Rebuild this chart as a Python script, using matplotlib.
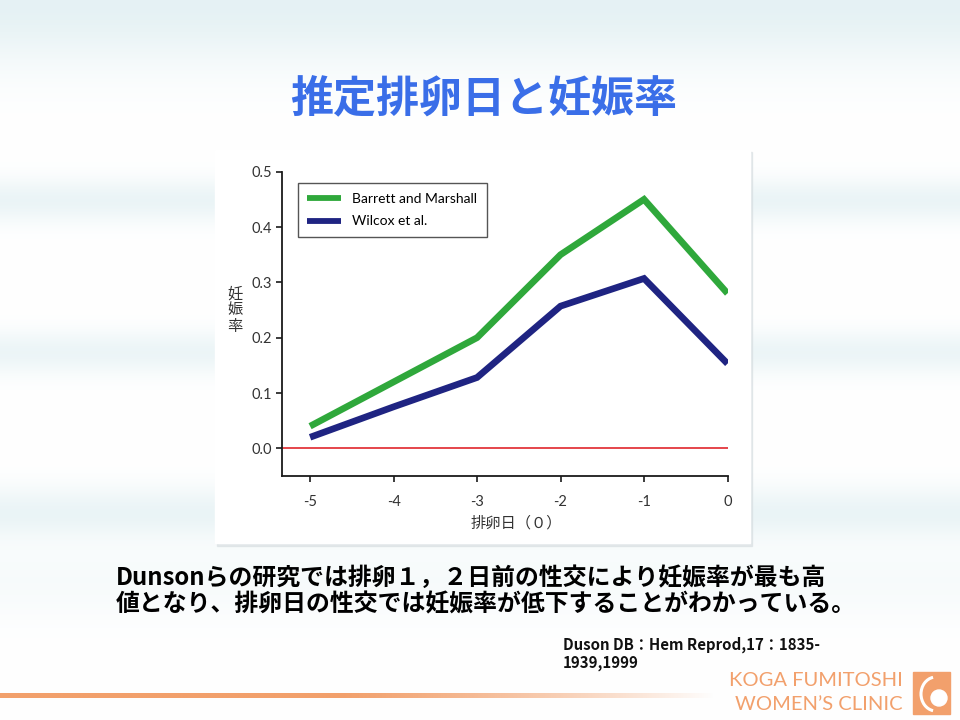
import numpy as np
import matplotlib
matplotlib.use('Agg')
import matplotlib.pyplot as plt
from matplotlib import patches

days = [-5, -4, -3, -2, -1, 0]
barrett = [0.04, 0.12, 0.20, 0.35, 0.45, 0.28]
wilcox = [0.02, 0.075, 0.128, 0.257, 0.307, 0.153]
series_names = ['Barrett and Marshall', 'Wilcox et al.']
yticks = [0.0, 0.1, 0.2, 0.3, 0.4, 0.5]

title = '推定排卵日と妊娠率'
body = ['Dunsonらの研究では排卵１，２日前の性交により妊娠率が最も高',
        '値となり、排卵日の性交では妊娠率が低下することがわかっている。']
ref = ['Duson DB：Hem Reprod,17：1835-', '1939,1999']

JP = ['Noto Sans CJK JP', 'DejaVu Sans']
LAT = ['Lato', 'Noto Sans CJK JP', 'DejaVu Sans']
ORANGE = '#f2a06c'

fig = plt.figure(figsize=(9.6, 7.2), dpi=100)

# slide background, pixel coordinates
bg = fig.add_axes([0, 0, 1, 1])
bg.set_xlim(0, 960)
bg.set_ylim(720, 0)
bg.axis('off')

yy = np.arange(720.0)
w = (0.95 * np.exp(-((yy - 5) / 60) ** 2) + 0.75 * np.exp(-((yy - 200) / 22) ** 2)
     + 0.7 * np.exp(-((yy - 352) / 22) ** 2) + 0.75 * np.exp(-((yy - 512) / 26) ** 2)
     + 0.3 * np.exp(-((yy - 580) / 40) ** 2))
w = np.clip(w, 0, 1)
band = np.array([0.895, 0.945, 0.955])
col = 1 - w[:, None] * (1 - band[None, :])
img = np.repeat(col[:, None, :], 2, axis=1)
bg.imshow(img, extent=(0, 960, 720, 0), aspect='auto', zorder=0)

# orange rule at bottom, fading out to the right
xx = np.linspace(0, 1, 400)
alpha = np.clip(1.3 - 1.3 * xx ** 2, 0, 1)
rgba = np.zeros((1, 400, 4))
rgba[0, :, :3] = matplotlib.colors.to_rgb(ORANGE)
rgba[0, :, 3] = alpha
bg.imshow(rgba, extent=(0, 715, 698, 693), aspect='auto', zorder=1)

# white picture panel with soft shadow
bg.add_patch(patches.Rectangle((217, 152), 535, 394, color='#d6dde0', alpha=0.6, zorder=2))
bg.add_patch(patches.Rectangle((215, 150), 535, 393, color='white', zorder=3))

bg.text(484, 98, title, family=JP, weight='bold', fontsize=31, color='#3a6ee8',
        ha='center', va='center', zorder=4)
bg.text(116, 578, body[0], family=JP, weight='bold', fontsize=17.2, color='black',
        ha='left', va='center', zorder=4)
bg.text(116, 604, body[1], family=JP, weight='bold', fontsize=17.2, color='black',
        ha='left', va='center', zorder=4)
bg.text(563, 645, ref[0], family=JP, weight='bold', fontsize=10.8, color='#111111',
        ha='left', va='center', zorder=4)
bg.text(563, 663, ref[1], family=JP, weight='bold', fontsize=10.8, color='#111111',
        ha='left', va='center', zorder=4)

# clinic logo
bg.text(903, 680, 'KOGA FUMITOSHI', family=LAT, fontsize=14.5, color=ORANGE,
        ha='right', va='center', zorder=4)
bg.text(903, 704, 'WOMEN\u2019S CLINIC', family=LAT, fontsize=14.5, color=ORANGE,
        ha='right', va='center', zorder=4)
bg.add_patch(patches.Rectangle((913, 672), 37, 42, color=ORANGE, zorder=4))
bg.add_patch(patches.Arc((936, 694), 30, 34, theta1=100, theta2=260, color='white', lw=2.2, zorder=5))
bg.add_patch(patches.Circle((939, 698), 8, color='white', zorder=5))

# chart
ax = fig.add_axes([281.7 / 960, 1 - 476 / 720, 445.8 / 960, 304.3 / 720])
ax.set_facecolor('none')
ax.plot(days, barrett, color='#2fa83b', lw=4.8, solid_joinstyle='miter',
        solid_capstyle='butt', label=series_names[0], zorder=3)
ax.plot(days, wilcox, color='#1f2482', lw=4.8, solid_joinstyle='miter',
        solid_capstyle='butt', label=series_names[1], zorder=3)
ax.axhline(0, color='#e0262c', lw=1.2, zorder=2)

ax.set_xlim(-5.34, 0)
ax.set_ylim(-0.05, 0.5)
ax.set_xticks(days)
ax.set_xticklabels([str(d) for d in days])
ax.set_yticks(yticks)
ax.set_yticklabels(['%.1f' % v for v in yticks])
for s in ['top', 'right']:
    ax.spines[s].set_visible(False)
for s in ['left', 'bottom']:
    ax.spines[s].set_linewidth(1.3)
    ax.spines[s].set_color('#1a1a1a')
ax.tick_params(axis='x', direction='out', length=4, width=1.2, pad=10, labelsize=10.5,
               colors='#1a1a1a', labelcolor='#333333')
ax.tick_params(axis='y', direction='out', length=4, width=1.2, pad=3, labelsize=10.5,
               colors='#1a1a1a', labelcolor='#333333')
for lab in ax.get_xticklabels() + ax.get_yticklabels():
    lab.set_family(LAT)

bg.text(516, 523, '排卵日（０）', family=JP, fontsize=11, color='#333333',
        ha='center', va='center', zorder=4)
bg.text(235, 310, '妊\n娠\n率', family=JP, fontsize=11, color='#333333',
        ha='center', va='center', linespacing=0.95, zorder=4)

leg = ax.legend(loc='upper left', bbox_to_anchor=(297.7 / 960, 1 - 183.3 / 720),
                bbox_transform=fig.transFigure, borderaxespad=0, fancybox=False,
                prop={'family': LAT, 'size': 10}, handlelength=2.4, handletextpad=0.8,
                borderpad=0.7, labelspacing=0.75, framealpha=1)
leg.get_frame().set_edgecolor('#555555')
leg.get_frame().set_linewidth(1.0)
for h in leg.get_lines():
    h.set_linewidth(4.2)

plt.savefig('out.png', dpi=100)
